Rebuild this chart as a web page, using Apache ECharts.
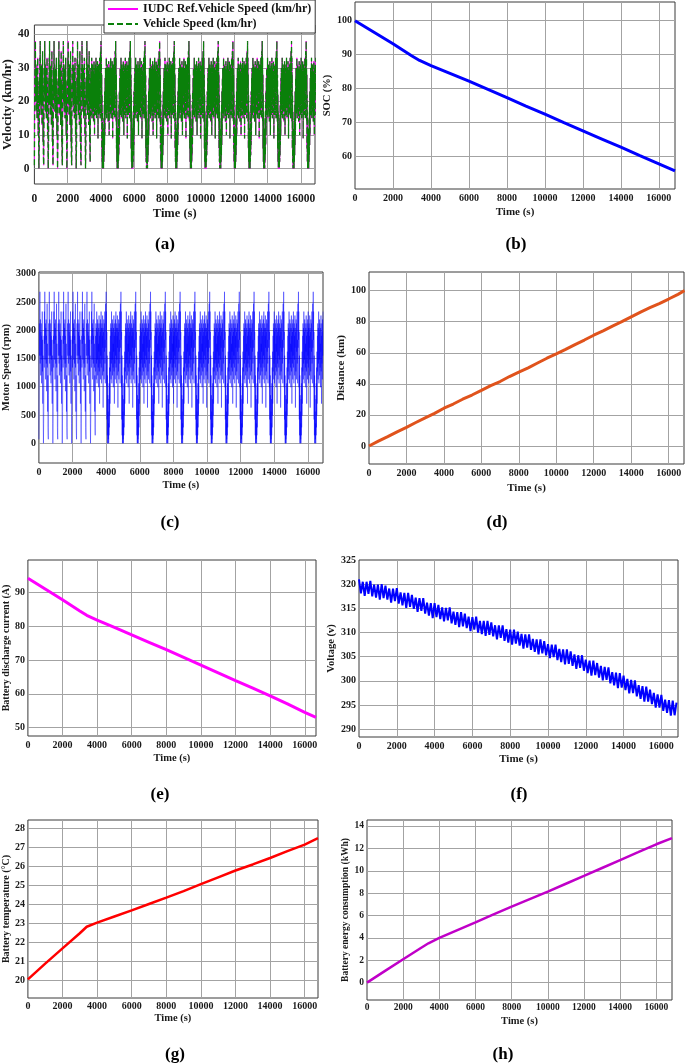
<!DOCTYPE html>
<html><head><meta charset="utf-8">
<script src="https://cdn.jsdelivr.net/npm/echarts@6/dist/echarts.min.js"></script>
<style>html,body{margin:0;padding:0;background:#fff}#c{width:685px;height:1063px}</style>
</head><body><div id="c"></div>
<script>
// ================= DATA =================
const sampleStep = 10;          // seconds between samples
const shortCyclePairs = 6;      // dense urban mini-cycles A/B alternating (0-3360 s)
const longCycleCount = 15;      // IUDC cycles (~880 s each)
const lastPartialSamples = 35;  // tail of the final, incomplete cycle

const shortCycleSpeedA = [1, 12, 24, 30, 22, 29, 38, 26, 20, 31, 24, 17, 28, 22, 30, 25, 15, 27, 21, 29, 33, 18, 26, 10, 22, 14, 5, 0];
const shortCycleSpeedB = [0, 8, 20, 27, 19, 33, 25, 38, 28, 21, 30, 23, 16, 29, 26, 31, 20, 27, 13, 24, 28, 35, 19, 25, 8, 17, 4, 2];
const longCycleSpeed = [
  14, 27, 18, 30, 22, 16, 29, 20, 33, 24,
  15, 28, 21, 31, 17, 26, 30, 19, 25, 14,
  29, 23, 32, 18, 27, 10, 24, 30, 20, 28,
  16, 31, 22, 26, 33, 19, 29, 15, 25, 30,
  21, 27, 17, 32, 24, 29, 9, 22, 28, 18,
  31, 25, 16, 30, 23, 27, 33, 20, 26, 15,
  29, 35, 24, 31,
  38, 26, 33, 14, 28, 6, 22, 2, 17, 0,
  12, 0, 8, 1, 5, 0, 11, 2, 15, 4,
  19, 7, 23, 10];

const shortCycleRpmA = [70, 850, 1690, 2120, 1550, 2040, 2680, 1830, 1410, 2190, 1690, 1200, 1970, 1550, 2120, 1760, 1060, 1900, 1480, 2040, 2330, 1270, 1830, 700, 1550, 990, 350, 0];
const shortCycleRpmB = [0, 560, 1410, 1900, 1340, 2330, 1760, 2680, 1970, 1480, 2120, 1620, 1130, 2040, 1830, 2190, 1410, 1900, 920, 1690, 1970, 2470, 1340, 1760, 560, 1200, 280, 140];
const longCycleRpm = [
  990, 1900, 1270, 2120, 1550, 1130, 2040, 1410, 2330, 1690,
  1060, 1970, 1480, 2190, 1200, 1830, 2120, 1340, 1760, 990,
  2040, 1620, 2260, 1270, 1900, 700, 1690, 2120, 1410, 1970,
  1130, 2190, 1550, 1830, 2330, 1340, 2040, 1060, 1760, 2120,
  1480, 1900, 1200, 2260, 1690, 2040, 630, 1550, 1970, 1270,
  2190, 1760, 1130, 2120, 1620, 1900, 2330, 1410, 1830, 1060,
  2040, 2470, 1690, 2190,
  2680, 1830, 2330, 990, 1970, 420, 1550, 140, 1200, 0,
  850, 0, 560, 70, 350, 0, 780, 140, 1060, 280,
  1340, 490, 1620, 700];

// (b) State of charge
const socTime = [0, 1000, 2000, 3000, 3400, 4000, 5000, 6000, 7000, 8000, 9000, 10000, 11000, 12000, 13000, 14000, 15000, 16000, 16850];
const socPct  = [100, 96.6, 93.2, 89.6, 88.3, 86.8, 84.5, 82.2, 79.8, 77.4, 74.9, 72.5, 70.0, 67.6, 65.2, 62.8, 60.3, 57.9, 55.8];

// (d) Distance
const distTime = [0, 500, 1000, 1500, 2000, 2500, 3000, 3500, 4000, 4500, 5000, 5500, 6000, 6500, 7000, 7500, 8000, 8500, 9000, 9500, 10000, 10500, 11000, 11500, 12000, 12500, 13000, 13500, 14000, 14500, 15000, 15500, 16000, 16500, 16850];
const distKm   = [0, 3.1, 6.0, 9.1, 12.0, 15.1, 18.1, 21.0, 24.3, 27.0, 30.1, 32.8, 35.8, 38.9, 41.5, 44.7, 47.6, 50.3, 53.4, 56.5, 59.3, 62.2, 65.3, 68.2, 71.3, 74.1, 77.2, 80.0, 83.1, 86.2, 89.0, 91.7, 94.6, 97.6, 100.0];

// (e) Battery discharge current
const currTime = [0, 1000, 2000, 3000, 3400, 4000, 5000, 6000, 7000, 8000, 9000, 10000, 11000, 12000, 13000, 14000, 15000, 16000, 16650];
const currA    = [94.3, 91.1, 87.9, 84.6, 83.3, 81.9, 79.7, 77.5, 75.3, 73.1, 70.8, 68.5, 66.2, 63.9, 61.7, 59.4, 57.0, 54.5, 53.0];

// (f) Battery voltage, every 100 s from 0 to 16800 s
const voltStep = 100;
const voltV = [
  321.0, 318.1, 320.5, 317.6, 320.5, 318.0, 320.7, 317.5, 319.9, 317.2,
  319.9, 316.8, 320.0, 317.1, 319.7, 316.8, 319.1, 316.2, 319.1, 316.5,
  319.2, 316.0, 318.3, 315.6, 318.2, 315.1, 318.2, 315.3, 317.8, 314.9,
  317.2, 314.3, 317.1, 314.5, 317.1, 313.9, 316.2, 313.5, 316.1, 313.0,
  316.1, 313.2, 315.7, 312.8, 315.2, 312.3, 315.1, 312.5, 315.2, 311.9,
  314.3, 311.6, 314.2, 311.1, 314.2, 311.3, 313.9, 310.9, 313.3, 310.3,
  313.2, 310.6, 313.3, 310.0, 312.4, 309.7, 312.4, 309.3, 312.4, 309.5,
  312.1, 309.2, 311.5, 308.6, 311.5, 308.9, 311.5, 308.3, 310.7, 307.9,
  310.6, 307.5, 310.6, 307.7, 310.2, 307.3, 309.7, 306.7, 309.6, 306.9,
  309.6, 306.4, 308.7, 306.0, 308.6, 305.5, 308.6, 305.7, 308.2, 305.3,
  307.6, 304.7, 307.5, 304.9, 307.5, 304.3, 306.6, 303.9, 306.5, 303.4,
  306.5, 303.5, 306.1, 303.1, 305.5, 302.5, 305.3, 302.7, 305.3, 302.1,
  304.4, 301.6, 304.2, 301.1, 304.2, 301.2, 303.7, 300.7, 303.1, 300.1,
  302.9, 300.2, 302.8, 299.5, 301.8, 299.1, 301.7, 298.5, 301.6, 298.6,
  301.1, 298.1, 300.4, 297.4, 300.2, 297.5, 300.1, 296.8, 299.1, 296.3,
  298.9, 295.7, 298.8, 295.7, 298.2, 295.2, 297.5, 294.5, 297.2, 294.5,
  297.1, 293.8, 296.1, 293.4, 296.0, 292.8, 295.9, 292.9, 295.5];

// (g) Battery temperature
const tempTime = [0, 1000, 2000, 3000, 3400, 4000, 5000, 6000, 7000, 8000, 9000, 10000, 11000, 12000, 13000, 14000, 15000, 16000, 16770];
const tempC    = [20.05, 20.88, 21.68, 22.48, 22.82, 23.04, 23.36, 23.68, 24.02, 24.35, 24.70, 25.06, 25.42, 25.78, 26.10, 26.44, 26.80, 27.14, 27.48];

// (h) Battery energy consumption
const energyTime = [0, 1000, 2000, 3000, 3400, 4000, 5000, 6000, 7000, 8000, 9000, 10000, 11000, 12000, 13000, 14000, 15000, 16000, 16870];
const energyKWh  = [0, 1.05, 2.09, 3.12, 3.52, 4.0, 4.7, 5.39, 6.1, 6.8, 7.47, 8.14, 8.84, 9.54, 10.25, 10.96, 11.66, 12.37, 12.92];

const panelLabels = ['(a)', '(b)', '(c)', '(d)', '(e)', '(f)', '(g)', '(h)'];

// ================= BUILD =================
function buildCycle(shortA, shortB, longArr) {
  const vals = [];
  for (let i = 0; i < shortCyclePairs; i++) { vals.push(...shortA); vals.push(...shortB); }
  for (let i = 0; i < longCycleCount; i++) vals.push(...longArr);
  vals.push(...longArr.slice(0, lastPartialSamples));
  return vals.map((v, i) => [i * sampleStep, v]);
}
function zip(xs, ys) { return xs.map((x, i) => [x, ys[i]]); }

const speedData = buildCycle(shortCycleSpeedA, shortCycleSpeedB, longCycleSpeed);
const rpmData = buildCycle(shortCycleRpmA, shortCycleRpmB, longCycleRpm);
const voltData = voltV.map((v, i) => [i * voltStep, v]);

const FONT = '"Liberation Serif", "Times New Roman", serif';

const layout = [
  {left: 31,  top: 25,  width: 284, height: 159, xMax: 16850, yMin: -4.6, yMax: 42.8, yStep: 10, tick: 11.5, xm: 9, ym: 5, yName: 'Velocity (km/hr)', yNs: 13, yGap: 13, xNs: 12.5, xGap: 23, cap: [165, 245]},
  {left: 355, top: 2,   width: 320, height: 187, xMax: 16850, yMin: 50.5, yMax: 105.5, yStep: 10, tick: 10, xm: 4, ym: 3, yName: 'SOC (%)', yNs: 10.5, yGap: 11, xNs: 11, xGap: 18, cap: [516, 245]},
  {left: 31,  top: 272, width: 292, height: 191, xMax: 16900, yMin: -350, yMax: 3030, yStep: 500, tick: 10, xm: 4, ym: 3, yName: 'Motor Speed (rpm)', yNs: 10.5, yGap: 21, xNs: 10.5, xGap: 17, cap: [170, 523]},
  {left: 369, top: 272, width: 315, height: 192, xMax: 16820, yMin: -11.6, yMax: 112, yStep: 20, tick: 10, xm: 4, ym: 3, yName: 'Distance (km)', yNs: 11, yGap: 14, xNs: 11, xGap: 19, cap: [497, 523]},
  {left: 23,  top: 560, width: 293, height: 176, xMax: 16650, yMin: 47.5, yMax: 99.7, yStep: 10, tick: 10, xm: 4, ym: 3, yName: 'Battery discharge current (A)', yNs: 10, yGap: 12, xNs: 10.5, xGap: 17, cap: [160, 795]},
  {left: 359, top: 560, width: 319, height: 177, xMax: 16880, yMin: 288.4, yMax: 325, yStep: 5, tick: 10, xm: 4, ym: 3, yName: 'Voltage (v)', yNs: 10.5, yGap: 15, xNs: 11, xGap: 17, cap: [519, 795], showMaxY: true},
  {left: 21,  top: 820, width: 297, height: 178, xMax: 16770, yMin: 19.07, yMax: 28.44, yStep: 1, tick: 10, xm: 3, ym: 3, yName: 'Battery temperature (°C)', yNs: 10, yGap: 12, xNs: 10.5, xGap: 15, cap: [175, 1055]},
  {left: 367, top: 820, width: 305, height: 180, xMax: 16870, yMin: -1.55, yMax: 14.54, yStep: 2, tick: 9.5, xm: 3, ym: 3, yName: 'Battery energy consumption (kWh)', yNs: 9.5, yGap: 11, xNs: 10.5, xGap: 16, cap: [503, 1055]}
];

const gridLine = {show: true, showMinLine: false, showMaxLine: false, lineStyle: {color: '#a3a3a3', width: 1}};

const grids = layout.map(p => ({show: true, left: p.left, top: p.top, width: p.width, height: p.height, borderColor: '#3a3a3a', borderWidth: 1, backgroundColor: 'transparent'}));

const xAxes = layout.map((p, i) => ({
  gridIndex: i, type: 'value', min: 0, max: p.xMax, minInterval: 2000, maxInterval: 2000,
  splitLine: gridLine, axisLine: {show: false}, axisTick: {show: false},
  axisLabel: {fontFamily: FONT, fontWeight: 'bold', fontSize: p.tick, color: '#1a1a1a', margin: p.xm, showMaxLabel: false, formatter: v => String(v)},
  name: 'Time (s)', nameLocation: 'middle', nameGap: p.xGap,
  nameTextStyle: {fontFamily: FONT, fontWeight: 'bold', fontSize: p.xNs, color: '#1a1a1a'}
}));

const yAxes = layout.map((p, i) => ({
  gridIndex: i, type: 'value', min: p.yMin, max: p.yMax, minInterval: p.yStep, maxInterval: p.yStep,
  splitLine: gridLine, axisLine: {show: false}, axisTick: {show: false},
  axisLabel: {fontFamily: FONT, fontWeight: 'bold', fontSize: p.tick, color: '#1a1a1a', margin: p.ym, showMinLabel: false, showMaxLabel: !!p.showMaxY, formatter: v => String(v)},
  name: p.yName, nameLocation: 'middle', nameGap: p.yGap, nameRotate: 90,
  nameTextStyle: {fontFamily: FONT, fontWeight: 'bold', fontSize: p.yNs, color: '#1a1a1a'}
}));

function line(idx, name, data, color, width, extra) {
  return Object.assign({
    type: 'line', name: name, xAxisIndex: idx, yAxisIndex: idx, data: data,
    showSymbol: false, symbol: 'none', animation: false, silent: true, clip: true,
    lineStyle: {color: color, width: width}, itemStyle: {color: color}
  }, extra || {});
}

const series = [
  line(0, 'IUDC Ref.Vehicle Speed (km/hr)', speedData, '#ff00ff', 1),
  line(0, 'Vehicle Speed (km/hr)', speedData, '#0a800a', 1.3, {lineStyle: {color: '#0a800a', width: 1.3, type: [6, 3]}}),
  line(1, 'SOC', zip(socTime, socPct), '#0000ff', 3),
  line(2, 'Motor Speed', rpmData, 'rgba(0,0,255,0.72)', 0.6),
  line(3, 'Distance', zip(distTime, distKm), '#e0531c', 3),
  line(4, 'Current', zip(currTime, currA), '#ff00ff', 3),
  line(5, 'Voltage', voltData, '#0000ff', 2),
  line(6, 'Temperature', zip(tempTime, tempC), '#ff0000', 2.5),
  line(7, 'Energy', zip(energyTime, energyKWh), '#c000c8', 2.5)
];

const option = {
  backgroundColor: '#fff',
  animation: false,
  grid: grids, xAxis: xAxes, yAxis: yAxes, series: series,
  legend: {
    data: ['IUDC Ref.Vehicle Speed (km/hr)', 'Vehicle Speed (km/hr)'],
    orient: 'vertical', left: 104, top: 0, z: 20,
    backgroundColor: '#fff', borderColor: '#333', borderWidth: 1,
    padding: [3, 4, 3, 3], itemGap: 3, itemWidth: 30, itemHeight: 10,
    selectedMode: false,
    itemStyle: {opacity: 0},
    textStyle: {fontFamily: FONT, fontWeight: 'bold', fontSize: 12, color: '#111'}
  },
  graphic: layout.map((p, i) => ({
    type: 'text', x: p.cap[0], y: p.cap[1],
    style: {text: panelLabels[i], font: 'bold 17px ' + FONT, fill: '#000', align: 'center', verticalAlign: 'middle'}
  }))
};

const chart = echarts.init(document.getElementById('c'));
chart.setOption(option);
</script>
</body></html>
